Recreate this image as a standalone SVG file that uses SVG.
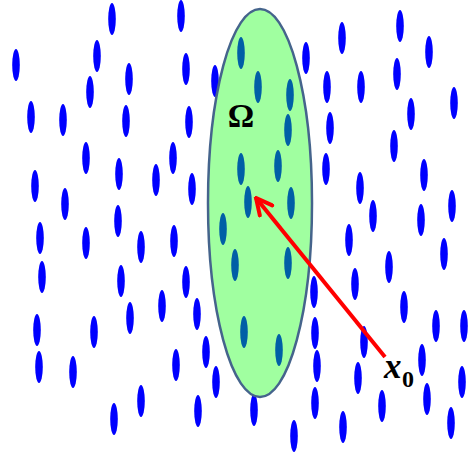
<svg xmlns="http://www.w3.org/2000/svg" width="472" height="460" viewBox="0 0 472 460">
<style>
.d{fill:#0000ff}
.di{fill:#005fa6}
.reg{fill:#a0ffa0;stroke:#45648c;stroke-width:2.5}
.lbl{font-family:"Liberation Serif","DejaVu Serif",serif;font-weight:bold;fill:#000}
.conn{stroke:#ff0000;stroke-width:4;fill:none}
</style>
<defs>
<ellipse id="e" cx="0" cy="0" rx="3.8" ry="16"/>
<marker id="ah" viewBox="0 0 20 20" refX="18" refY="10" markerWidth="20" markerHeight="20" markerUnits="userSpaceOnUse" orient="auto">
<path d="M2,2 L18,10 L2,18" fill="none" stroke="#ff0000" stroke-width="4" stroke-linecap="round" stroke-linejoin="miter"/>
</marker>
</defs>
<rect width="472" height="460" fill="#ffffff"/>
<g id="points" class="d">
<use href="#e" x="16" y="65"/><use href="#e" x="31" y="117"/><use href="#e" x="35" y="186"/><use href="#e" x="40" y="238"/><use href="#e" x="42" y="277"/><use href="#e" x="37" y="330"/><use href="#e" x="39" y="367"/>
<use href="#e" x="63" y="120"/><use href="#e" x="65" y="204"/><use href="#e" x="86" y="158"/><use href="#e" x="86" y="243"/><use href="#e" x="73" y="372"/><use href="#e" x="94" y="332"/>
<use href="#e" x="90" y="92"/><use href="#e" x="97" y="56"/><use href="#e" x="112" y="19"/><use href="#e" x="126" y="121"/><use href="#e" x="129" y="79"/><use href="#e" x="119" y="174"/><use href="#e" x="118" y="221"/><use href="#e" x="121" y="281"/><use href="#e" x="130" y="318"/><use href="#e" x="141" y="247"/><use href="#e" x="114" y="419"/><use href="#e" x="141" y="401"/>
<use href="#e" x="156" y="180"/><use href="#e" x="173" y="158"/><use href="#e" x="181" y="16"/><use href="#e" x="186" y="69"/><use href="#e" x="189" y="122"/><use href="#e" x="192" y="189"/><use href="#e" x="174" y="241"/><use href="#e" x="186" y="282"/><use href="#e" x="162" y="306"/><use href="#e" x="197" y="314"/><use href="#e" x="206" y="352"/><use href="#e" x="176" y="365"/><use href="#e" x="216" y="382"/><use href="#e" x="198" y="411"/><use href="#e" x="215" y="81"/>
<use href="#e" x="254" y="410"/><use href="#e" x="294" y="436"/>
<use href="#e" x="306" y="58"/><use href="#e" x="327" y="87"/><use href="#e" x="342" y="38"/><use href="#e" x="361" y="87"/><use href="#e" x="330" y="128"/><use href="#e" x="326" y="169"/><use href="#e" x="400" y="26"/><use href="#e" x="397" y="74"/><use href="#e" x="429" y="52"/><use href="#e" x="411" y="114"/><use href="#e" x="454" y="103"/><use href="#e" x="394" y="146"/><use href="#e" x="424" y="175"/><use href="#e" x="360" y="188"/><use href="#e" x="373" y="216"/><use href="#e" x="421" y="220"/><use href="#e" x="452" y="206"/><use href="#e" x="349" y="240"/><use href="#e" x="444" y="254"/><use href="#e" x="389" y="267"/><use href="#e" x="355" y="284"/><use href="#e" x="404" y="307"/><use href="#e" x="436" y="326"/><use href="#e" x="464" y="326"/><use href="#e" x="364" y="342"/><use href="#e" x="422" y="360"/><use href="#e" x="358" y="378"/><use href="#e" x="462" y="382"/><use href="#e" x="427" y="399"/><use href="#e" x="382" y="406"/><use href="#e" x="451" y="423"/><use href="#e" x="343" y="427"/>
<use href="#e" x="314" y="292"/><use href="#e" x="315" y="333"/><use href="#e" x="317" y="366"/><use href="#e" x="315" y="403"/>
</g>
<g id="omega-region">
<ellipse class="reg" cx="260" cy="203" rx="52" ry="194"/>
<g class="di">
<use href="#e" x="241" y="53"/><use href="#e" x="258" y="87"/><use href="#e" x="290" y="95"/><use href="#e" x="288" y="130"/><use href="#e" x="241" y="169"/><use href="#e" x="278" y="166"/><use href="#e" x="248" y="202"/><use href="#e" x="291" y="203"/><use href="#e" x="223" y="229"/><use href="#e" x="235" y="265"/><use href="#e" x="288" y="263"/><use href="#e" x="244" y="332"/><use href="#e" x="279" y="350"/>
</g>
<text class="lbl" x="241" y="127" font-size="33" text-anchor="middle">Ω</text>
</g>
<g id="connectors">
<line class="conn" x1="385" y1="357" x2="256" y2="198" marker-end="url(#ah)"/>
</g>
<g id="x0-label">
<text class="lbl" x="384" y="378" font-size="35" font-style="italic">x</text>
<text class="lbl" x="402" y="387" font-size="24">0</text>
</g>
</svg>
